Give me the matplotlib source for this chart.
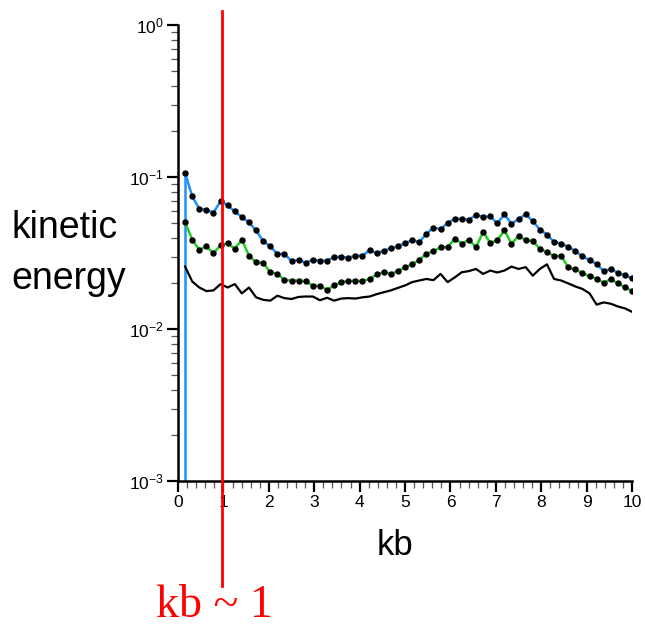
import matplotlib
matplotlib.use("Agg")
import matplotlib.pyplot as plt
import numpy as np
from matplotlib.ticker import LogLocator, MultipleLocator, LogFormatterSciNotation

plt.rcParams['font.family'] = ['Liberation Sans', 'DejaVu Sans']
plt.rcParams['mathtext.fontset'] = 'custom'
plt.rcParams['mathtext.rm'] = 'Liberation Sans'

# wavenumber grid (64 modes up to kb = 10)
kb = np.arange(1, 65) * 10 / 64

# energy spectra
blue_energy = [0.107, 0.0747, 0.0620, 0.0611, 0.0584, 0.0696, 0.0652, 0.0595, 0.0546, 0.0504,
               0.0446, 0.0379, 0.0350, 0.0313, 0.0313, 0.0280, 0.0286, 0.0273, 0.0287, 0.0281,
               0.0283, 0.0298, 0.0300, 0.0295, 0.0305, 0.0305, 0.0330, 0.0316, 0.0328, 0.0340,
               0.0350, 0.0368, 0.0385, 0.0374, 0.0424, 0.0465, 0.0456, 0.0499, 0.0533, 0.0530,
               0.0525, 0.0565, 0.0549, 0.0552, 0.0497, 0.0569, 0.0495, 0.0530, 0.0570, 0.0513,
               0.0452, 0.0419, 0.0375, 0.0366, 0.0348, 0.0326, 0.0301, 0.0285, 0.0268, 0.0241,
               0.0249, 0.0234, 0.0226, 0.0216]
blue_floor = 1e-5  # the blue curve drops off the bottom at the first mode

green_energy = [0.0506, 0.0388, 0.0333, 0.0350, 0.0316, 0.0357, 0.0368, 0.0338, 0.0388, 0.0304,
                0.0275, 0.0273, 0.0237, 0.0231, 0.0211, 0.0209, 0.0209, 0.0207, 0.0193, 0.0193,
                0.0181, 0.0194, 0.0204, 0.0207, 0.0209, 0.0207, 0.0214, 0.0229, 0.0237, 0.0231,
                0.0241, 0.0256, 0.0267, 0.0286, 0.0313, 0.0326, 0.0346, 0.0346, 0.0394, 0.0365,
                0.0388, 0.0346, 0.0436, 0.0370, 0.0384, 0.0446, 0.0365, 0.0410, 0.0386, 0.0380,
                0.0338, 0.0321, 0.0303, 0.0304, 0.0255, 0.0247, 0.0234, 0.0223, 0.0215, 0.0202,
                0.0213, 0.0200, 0.0189, 0.0178]

black_energy = [0.0258, 0.0206, 0.0188, 0.0178, 0.0180, 0.0198, 0.0188, 0.0198, 0.0172, 0.0188,
                0.0162, 0.0156, 0.0154, 0.0166, 0.0160, 0.0158, 0.0163, 0.0164, 0.0164, 0.0155,
                0.0161, 0.0154, 0.0159, 0.0160, 0.0159, 0.0162, 0.0164, 0.0170, 0.0175, 0.0180,
                0.0187, 0.0194, 0.0204, 0.0209, 0.0214, 0.0210, 0.0231, 0.0204, 0.0219, 0.0237,
                0.0241, 0.0249, 0.0231, 0.0243, 0.0236, 0.0243, 0.0258, 0.0249, 0.0256, 0.0225,
                0.0249, 0.0267, 0.0214, 0.0209, 0.0200, 0.0191, 0.0184, 0.0172, 0.0145, 0.0150,
                0.0147, 0.0141, 0.0137, 0.0130]

kb_marker = 0.97
x_ticks = list(range(0, 11))

fig = plt.figure(figsize=(6.45, 6.29), dpi=100)
ax = fig.add_axes([0.276, 0.235, 0.704, 0.725])

# blue curve: vertical drop at the first mode, then the spectrum with dots
ax.plot([kb[0], kb[0]], [blue_floor, blue_energy[0]], color='#1e90ff', lw=1.8)
ax.plot(kb, blue_energy, color='#1e90ff', lw=1.8, marker='o', ms=3.6,
        mfc='black', mec='black')
ax.plot(kb, green_energy, color='#22cc22', lw=1.8, marker='o', ms=3.6,
        mfc='black', mec='black')
ax.plot(kb, black_energy, color='black', lw=1.6)

# red marker line at kb ~ 1, running past the axes
ax.axvline(kb_marker, ymin=-0.23, ymax=1.03, color='red', lw=2, clip_on=False, zorder=5)

ax.set_yscale('log')
ax.set_ylim(1e-3, 1)
ax.set_xlim(0, 10)

ax.set_xticks(x_ticks)
ax.xaxis.set_minor_locator(MultipleLocator(0.2))
ax.yaxis.set_major_locator(LogLocator(base=10))
ax.yaxis.set_minor_locator(LogLocator(base=10, subs=np.arange(2, 10)))
ax.yaxis.set_major_formatter(LogFormatterSciNotation())

for side in ['top', 'right']:
    ax.spines[side].set_visible(False)
for side in ['left', 'bottom']:
    ax.spines[side].set_linewidth(1.8)

ax.tick_params(which='major', direction='out', length=8, width=1.6, labelsize=12.5, pad=2)
ax.tick_params(which='minor', direction='out', length=5, width=0.9, color='#555555')

ax.set_xlabel('kb', fontsize=25)
ax.xaxis.set_label_coords(0.477, -0.105)
fig.text(0.018, 0.597, 'kinetic\nenergy', fontsize=27, ha='left', va='center', linespacing=1.55)

fig.text(0.332, 0.019, 'kb ~ 1', color='red', fontsize=33, ha='center', va='baseline',
         family=['Liberation Serif', 'DejaVu Serif'])

plt.savefig('out.png', dpi=100)
